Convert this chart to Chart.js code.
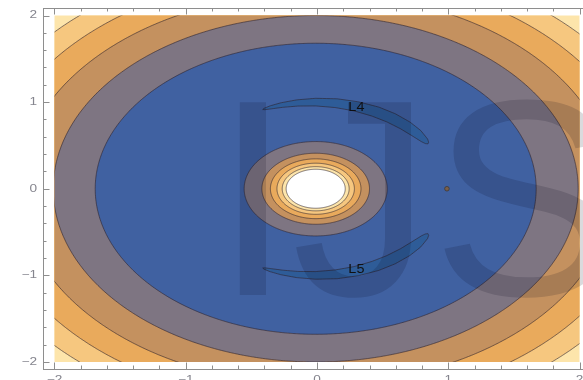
<!DOCTYPE html>
<html>
<head>
<meta charset="utf-8">
<script src="https://cdn.jsdelivr.net/npm/chart.js@4/dist/chart.umd.min.js"></script>
<style>
  html, body { margin: 0; padding: 0; background: #fff; overflow: hidden; width: 583px; height: 380px; }
  #wrap { position: relative; width: 600px; height: 400px; }
</style>
</head>
<body>
<div id="wrap"><canvas id="c" width="600" height="400"></canvas></div>
<script>
// Filled contours of the effective potential in the rotating frame:
// a heavy body near the origin, a light one near x = 1, and the
// two tadpole regions around the L4 / L5 points.

const plotRange = [-2, 2];
const tickValues = [-2, -1, 0, 1, 2];
const tickLabels = ['\u22122', '\u22121', '0', '1', '2'];
const minorStep = 0.2;

const primary = [-0.01, 0];
const secondary = [0.99, 0];

// contour values and the radius (about the heavy body) of each contour
const contourLevels = [1.5, 2.0, 2.5, 3.0, 3.5, 4.0, 4.5];
const outerRadii    = [null, 1.68, 2.00, 2.26, 2.49, 2.69, 2.88];
const innerRadii    = [null, 0.545, 0.41, 0.345, 0.295, 0.255, 0.225];

// band colours: below 1.5, 1.5-2.0, ..., 4.0-4.5, above 4.5
const bandColors = ['#2e5c98', '#4061a1', '#7e7582', '#c4915f',
                    '#e9aa5c', '#f6c77f', '#fde5ab', '#ffffff'];

// the 1.5 contour around L4: polar angle (deg), half width about radius 1
const tadpoleRadius = 1.0;
const tadpoleAngles    = [31.2, 32, 34, 40, 47, 55, 63, 72, 81, 90, 98, 105, 110, 113, 113.8];
const tadpoleHalfWidth = [0, 0.015, 0.028, 0.045, 0.053, 0.057, 0.058, 0.055, 0.051, 0.044, 0.036, 0.027, 0.018, 0.008, 0];

const pointNames = ['L4', 'L5'];
const pointLabelX = [0.30, 0.30];
const pointLabelY = [0.94, -0.94];

const lineColor = 'rgba(45,35,45,0.6)';

// ---- shapes in data coordinates ----
function ring(r) {
  const pts = [];
  for (let a = 0; a <= 360; a += 2) {
    const t = a * Math.PI / 180;
    pts.push({ x: primary[0] + r * Math.cos(t), y: primary[1] + r * Math.sin(t) });
  }
  return pts;
}
function tadpole(sign) {
  const pts = [];
  const n = tadpoleAngles.length;
  for (let i = 0; i < n; i++) {
    const t = sign * tadpoleAngles[i] * Math.PI / 180, r = tadpoleRadius + tadpoleHalfWidth[i];
    pts.push({ x: primary[0] + r * Math.cos(t), y: primary[1] + r * Math.sin(t) });
  }
  for (let i = n - 1; i >= 0; i--) {
    const t = sign * tadpoleAngles[i] * Math.PI / 180, r = tadpoleRadius - tadpoleHalfWidth[i];
    pts.push({ x: primary[0] + r * Math.cos(t), y: primary[1] + r * Math.sin(t) });
  }
  pts.push(pts[0]);
  return pts;
}

const layers = [];
function addShape(points, color, border) {
  layers.push({
    data: points, showLine: true, fill: 'shape', tension: 0.02,
    backgroundColor: color, borderColor: border ? lineColor : 'rgba(0,0,0,0)',
    borderWidth: border ? 1 : 0, pointRadius: 0, pointHoverRadius: 0
  });
}
// background above the highest contour
addShape([
  { x: plotRange[0], y: plotRange[0] }, { x: plotRange[1], y: plotRange[0] },
  { x: plotRange[1], y: plotRange[1] }, { x: plotRange[0], y: plotRange[1] },
  { x: plotRange[0], y: plotRange[0] }
], bandColors[bandColors.length - 1], false);
// outer branches, largest first
for (let i = contourLevels.length - 1; i >= 1; i--) addShape(ring(outerRadii[i]), bandColors[i], true);
// branches around the heavy body, largest first
for (let i = 1; i < contourLevels.length; i++) addShape(ring(innerRadii[i]), bandColors[i + 1], true);
// tadpole regions
addShape(tadpole(1), bandColors[0], true);
addShape(tadpole(-1), bandColors[0], true);
// light body
layers.push({
  data: [{ x: secondary[0], y: secondary[1] }], showLine: false,
  pointRadius: 2.3, backgroundColor: '#7a5f48', borderColor: '#3f3838', borderWidth: 0.8
});
layers.forEach((d, i) => { d.order = layers.length - i; });

// clip the contours to the plot range (inside the padded frame)
const rangeClip = {
  id: 'rangeClip',
  beforeDatasetsDraw(chart) {
    const { ctx, scales: { x, y } } = chart;
    const l = x.getPixelForValue(plotRange[0]), r = x.getPixelForValue(plotRange[1]);
    const t = y.getPixelForValue(plotRange[1]), b = y.getPixelForValue(plotRange[0]);
    ctx.save();
    ctx.beginPath();
    ctx.rect(l, t, r - l, b - t);
    ctx.clip();
  },
  afterDatasetsDraw(chart) {
    const { ctx, scales: { x, y } } = chart;
    ctx.restore();
    // L4 / L5 labels
    ctx.save();
    ctx.fillStyle = '#111';
    ctx.textAlign = 'center';
    ctx.textBaseline = 'middle';
    ctx.font = '12px "Liberation Sans", Arial, sans-serif';
    pointNames.forEach((s, i) => {
      const px = x.getPixelForValue(pointLabelX[i]), py = y.getPixelForValue(pointLabelY[i]);
      ctx.save();
      ctx.translate(px, py);
      ctx.scale(1.2, 1);
      ctx.fillText(s, 0, 0);
      ctx.restore();
    });
    ctx.restore();
  }
};

// frame with inward ticks and tick labels
const frame = {
  id: 'frame',
  afterDraw(chart) {
    const { ctx, chartArea: a, scales: { x, y } } = chart;
    ctx.save();
    ctx.strokeStyle = '#8e8e8e';
    ctx.lineWidth = 1;
    ctx.strokeRect(Math.round(a.left) + 0.5, Math.round(a.top) + 0.5,
                   Math.round(a.right - a.left), Math.round(a.bottom - a.top));
    const nMinor = Math.round((plotRange[1] - plotRange[0]) / minorStep);
    ctx.beginPath();
    for (let k = 0; k <= nMinor; k++) {
      const v = plotRange[0] + k * minorStep;
      const major = Math.abs(v - Math.round(v)) < 1e-6;
      const len = major ? 6.5 : 3.5;
      const px = Math.round(x.getPixelForValue(v)) + 0.5;
      const py = Math.round(y.getPixelForValue(v)) + 0.5;
      ctx.moveTo(px, a.bottom); ctx.lineTo(px, a.bottom - len);
      ctx.moveTo(px, a.top); ctx.lineTo(px, a.top + len);
      ctx.moveTo(a.left, py); ctx.lineTo(a.left + len, py);
      ctx.moveTo(a.right, py); ctx.lineTo(a.right - len, py);
    }
    ctx.stroke();

    ctx.fillStyle = '#85858e';
    ctx.font = '10.5px "Liberation Sans", Arial, sans-serif';
    tickValues.forEach((v, i) => {
      const py = y.getPixelForValue(v);
      ctx.save();
      ctx.translate(a.left - 6, py);
      ctx.scale(1.3, 1);
      ctx.textAlign = 'right';
      ctx.textBaseline = 'middle';
      ctx.fillText(tickLabels[i], 0, 0);
      ctx.restore();

      const px = x.getPixelForValue(v);
      ctx.save();
      ctx.translate(px, a.bottom + 6);
      ctx.scale(1.3, 1);
      ctx.textAlign = 'center';
      ctx.textBaseline = 'top';
      ctx.fillText(tickLabels[i], 0, 0);
      ctx.restore();
    });
    ctx.restore();

    // watermark lettering
    ctx.save();
    ctx.fillStyle = 'rgba(10,10,30,0.15)';
    ctx.font = '280px "Liberation Sans", Arial, sans-serif';
    ctx.textBaseline = 'alphabetic';
    ctx.textAlign = 'left';
    ctx.fillText('IJS', 214, 295);
    ctx.restore();
  }
};

new Chart(document.getElementById('c'), {
  type: 'scatter',
  data: { datasets: layers },
  options: {
    responsive: false,
    animation: false,
    devicePixelRatio: 1,
    layout: { padding: { left: 43, top: 8, right: 9, bottom: 31 } },
    scales: {
      x: { type: 'linear', min: -2.0876, max: 2.0876, display: false },
      y: { type: 'linear', min: -2.0808, max: 2.0866, display: false }
    },
    plugins: {
      legend: { display: false },
      tooltip: { enabled: false },
      filler: { drawTime: 'beforeDatasetDraw' }
    },
    events: []
  },
  plugins: [rangeClip, frame]
});
</script>
</body>
</html>
